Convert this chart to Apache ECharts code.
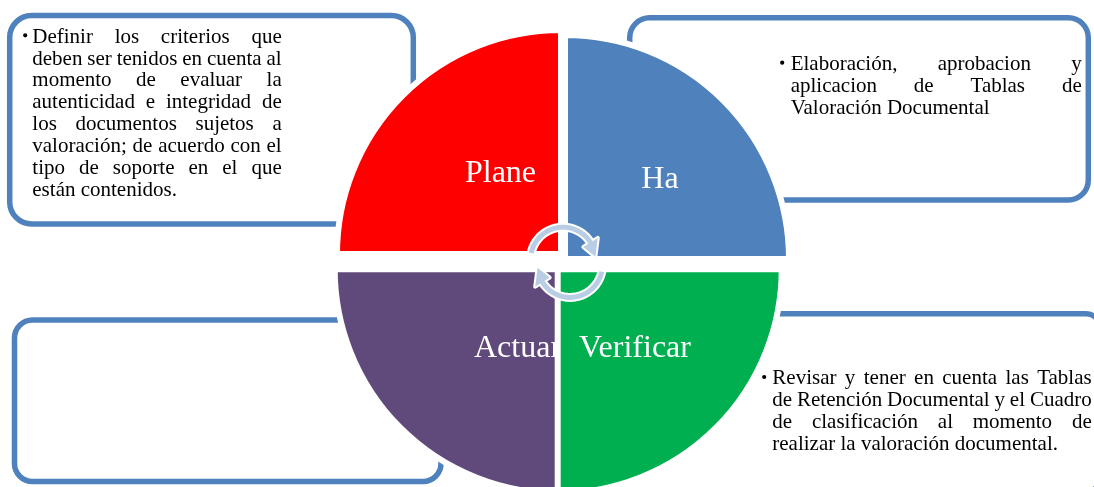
<!DOCTYPE html>
<html><head><meta charset="utf-8">
<script src="https://cdn.jsdelivr.net/npm/echarts@6/dist/echarts.min.js"></script>
<style>html,body{margin:0;padding:0;background:#fff}#chart{width:1094px;height:487px}</style>
</head><body><div id="chart"></div>
<script>
// ---- data ----
const phases = ['Plane', 'Ha', 'Actuar', 'Verificar'];
const phaseColors = ['#FF0000', '#4F81BD', '#604A7B', '#00B050'];
const planLines = ['Definir los criterios que', 'deben ser tenidos en cuenta al', 'momento de evaluar la', 'autenticidad e integridad de', 'los documentos sujetos a', 'valoración; de acuerdo con el', 'tipo de soporte en el que', 'están contenidos.'];
const doLines = ['Elaboración, aprobacion y', 'aplicacion de Tablas de', 'Valoración Documental'];
const checkLines = ['Revisar y tener en cuenta las Tablas', 'de Retención Documental y el Cuadro', 'de clasificación al momento de', 'realizar la valoración documental.'];
const actLines = [];
const cycleArrows = ['Plane→Ha', 'Verificar→Actuar'];

// ---- layout (axis units = pixels) ----
const FONT = '"Liberation Serif", "Times New Roman", serif';
const BOX_COLOR = '#4F81BD';
const ARROW_COLOR = '#B9CDE5';
const QUAD_R = 224;
const quadLayout = [
  {c: [561, 254], a: [180, 270], label: [500.5, 184]},
  {c: [565, 259], a: [270, 360], label: [660, 190.7]},
  {c: [558.7, 269.3], a: [90, 180], label: [517.5, 359]},
  {c: [557.7, 269.3], a: [0, 90], label: [635, 359]}
];
const LABEL_FS = 32;
const boxLayout = [
  {x0: 9.7, y0: 15.5, x1: 413.3, y1: 224, r: 22},
  {x0: 629.7, y0: 17.8, x1: 1088.3, y1: 200, r: 20},
  {x0: 570, y0: 313.8, x1: 1100, y1: 492, r: 14},
  {x0: 14.5, y0: 320, x1: 441, y1: 481.5, r: 18}
];
const BODY_FS = 21, LINE_H = 21.9;
const textBlocks = [
  {lines: planLines, x0: 32.3, x1: 281.7, base: 44.3, bullet: 23},
  {lines: doLines, x0: 790.7, x1: 1081.7, base: 71.7, bullet: 780},
  {lines: checkLines, x0: 772.3, x1: 1091.7, base: 386, bullet: 762},
  {lines: actLines, x0: 40, x1: 420, base: 350, bullet: 30}
];
const arrowLayout = [
  {c: [563, 259.7], s: 192, b: 328, t: 355},
  {c: [570, 264.9], s: 12, b: 148, t: 175}
];

// ---- text measuring for justification ----
const mctx = document.createElement('canvas').getContext('2d');
function measure(t, fs) { mctx.font = fs + 'px ' + FONT; return mctx.measureText(t).width; }
function wordsOf(block, li) {
  const line = block.lines[li];
  const words = line.split(' ');
  const widths = words.map(w => measure(w, BODY_FS));
  const last = li === block.lines.length - 1;
  let gap = measure(' ', BODY_FS);
  if (!last && words.length > 1) {
    const tot = widths.reduce((a, b) => a + b, 0);
    gap = (block.x1 - block.x0 - tot) / (words.length - 1);
  }
  const out = []; let x = block.x0;
  words.forEach((w, i) => { out.push({w, x}); x += widths[i] + gap; });
  return out;
}
const BASE_SHIFT = 0.34; // alphabetic baseline below middle, in em

const chart = echarts.init(document.getElementById('chart'));
const rad = d => d * Math.PI / 180;

function arrowPts(cx, cy, r, hw, hh, s, b, t) {
  const p = [];
  const P = (a, rr) => [cx + rr * Math.cos(rad(a)), cy + rr * Math.sin(rad(a))];
  for (let a = s; a < b; a += 2) p.push(P(a, r + hw));
  p.push(P(b, r + hw)); p.push(P(b, r + hh)); p.push(P(t, r)); p.push(P(b, r - hh)); p.push(P(b, r - hw));
  for (let a = b; a > s; a -= 2) p.push(P(a, r - hw));
  p.push(P(s, r - hw));
  return p;
}

const series = [];
// boxes
series.push({
  type: 'custom', z: 1, silent: true,
  data: boxLayout.map((b, i) => [i, 0]),
  renderItem: (params, api) => {
    const b = boxLayout[params.dataIndex];
    const p0 = api.coord([b.x0, b.y0]), p1 = api.coord([b.x1, b.y1]);
    return {type: 'rect', shape: {x: p0[0], y: p0[1], width: p1[0] - p0[0], height: p1[1] - p0[1], r: b.r},
      style: {fill: '#fff', stroke: BOX_COLOR, lineWidth: 5.5}};
  }
});
// quadrants
series.push({
  type: 'custom', z: 2, silent: true,
  data: phases.map((p, i) => [i, 0]),
  renderItem: (params, api) => {
    const i = params.dataIndex, q = quadLayout[i];
    const c = api.coord(q.c), l = api.coord(q.label);
    return {type: 'group', children: [
      {type: 'sector', shape: {cx: c[0], cy: c[1], r0: 0, r: QUAD_R, startAngle: rad(q.a[0]), endAngle: rad(q.a[1]), clockwise: true},
        style: {fill: phaseColors[i], stroke: '#fff', lineWidth: 6}},
      {type: 'text', style: {text: phases[i], x: l[0], y: l[1] - BASE_SHIFT * LABEL_FS, font: LABEL_FS + 'px ' + FONT,
        fill: '#fff', textAlign: 'center', textVerticalAlign: 'middle'}}
    ]};
  }
});
// cycle arrows
series.push({
  type: 'custom', z: 3, silent: true,
  data: cycleArrows.map((a, i) => [i, 0]),
  renderItem: (params, api) => {
    const a = arrowLayout[params.dataIndex];
    const c = api.coord(a.c);
    const pts = arrowPts(c[0], c[1], 32.5, 2.5, 8.5, a.s, a.b, a.t);
    return {type: 'group', children: [
      {type: 'polygon', shape: {points: pts}, style: {fill: '#fff', stroke: '#fff', lineWidth: 4, lineJoin: 'round'}},
      {type: 'polygon', shape: {points: pts}, style: {fill: ARROW_COLOR}}
    ]};
  }
});
// body text
textBlocks.forEach((blk, bi) => {
  series.push({
    type: 'custom', z: 4, silent: true,
    data: blk.lines.map((l, i) => [i, 0]),
    renderItem: (params, api) => {
      const li = params.dataIndex;
      const yb = blk.base + li * LINE_H;
      const children = wordsOf(blk, li).map(o => {
        const p = api.coord([o.x, yb]);
        return {type: 'text', style: {text: o.w, x: p[0], y: p[1] - BASE_SHIFT * BODY_FS, font: BODY_FS + 'px ' + FONT,
          fill: '#000', textAlign: 'left', textVerticalAlign: 'middle'}};
      });
      if (li === 0) {
        const bp = api.coord([blk.bullet + 2.2, yb - 9]);
        children.push({type: 'circle', shape: {cx: bp[0], cy: bp[1], r: 2.1}, style: {fill: '#000'}});
      }
      return {type: 'group', children};
    }
  });
});

chart.setOption({
  animation: false,
  grid: {left: 0, right: 0, top: 0, bottom: 0},
  xAxis: {type: 'value', min: 0, max: 1094, show: false},
  yAxis: {type: 'value', min: 0, max: 487, inverse: true, show: false},
  series
});
</script></body></html>
